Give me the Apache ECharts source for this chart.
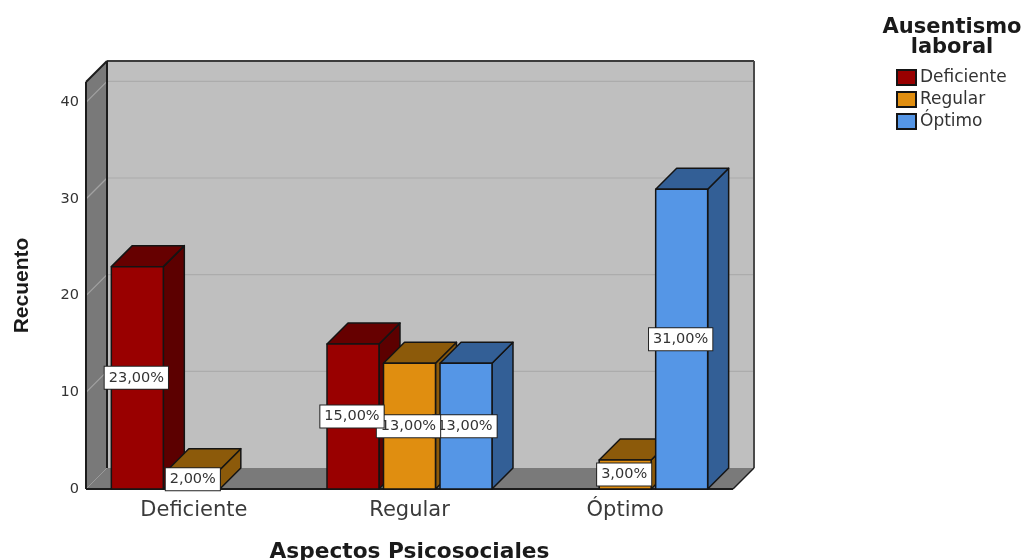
<!DOCTYPE html>
<html>
<head>
<meta charset="utf-8">
<script src="https://cdn.jsdelivr.net/npm/echarts@6/dist/echarts.min.js"></script>
<style>html,body{margin:0;padding:0;background:#fff}#chart{width:1024px;height:560px}</style>
</head>
<body>
<div id="chart"></div>
<script>
// Recuento de ausentismo laboral por nivel de aspectos psicosociales
const categories = ['Deficiente', 'Regular', 'Óptimo'];
const deficiente = [23, 15, 0];
const regular = [2, 13, 3];
const optimo = [0, 13, 31];
const yTicks = [0, 10, 20, 30, 40];
const seriesNames = ['Deficiente', 'Regular', 'Óptimo'];

const DEPTH = 21;
const palette = [
  { front: '#990000', top: '#660000', side: '#5c0000' },
  { front: '#e08e10', top: '#8c5a0a', side: '#8c5a0a' },
  { front: '#5596e6', top: '#335f96', side: '#335f96' }
];
const EDGE = '#141414';
const values = [deficiente, regular, optimo];
const FONT = '"DejaVu Sans"';

// Paredes, suelo y rejilla de la caja 3D, colocados con la escala del eje
function renderBox(params, api) {
  const c = params.coordSys;
  const l = c.x, r = c.x + c.width, t = c.y, b = c.y + c.height, d = DEPTH;
  const poly = (points, fill) => ({ type: 'polygon', shape: { points }, style: { fill, stroke: null } });
  const line = (x1, y1, x2, y2, stroke, lineWidth) => ({
    type: 'line', shape: { x1, y1, x2, y2 }, style: { stroke, lineWidth, fill: null }
  });
  const children = [
    poly([[l + d, t - d], [r + d, t - d], [r + d, b - d], [l + d, b - d]], '#bfbfbf'),
    poly([[l, t], [l + d, t - d], [l + d, b - d], [l, b]], '#797979'),
    poly([[l, b], [l + d, b - d], [r + d, b - d], [r, b]], '#7a7a7a')
  ];
  yTicks.slice(1).forEach(tick => {
    const y = api.coord([0, tick])[1];
    children.push(line(l + d, y - d, r + d, y - d, '#acacac', 1.2));
    children.push(line(l, y, l + d, y - d, '#a2a2a2', 1.2));
  });
  children.push(
    line(l + d, b - d, l, b, '#9a9a9a', 1),
    line(l + d, t - d, r + d, t - d, '#3c3c3c', 2),
    line(r + d, t - d, r + d, b - d, '#4a4a4a', 2),
    line(l + d, t - d, l + d, b - d, '#1c1c1c', 2),
    line(l, t, l, b, '#1c1c1c', 2),
    line(l, t, l + d, t - d, '#1c1c1c', 2),
    line(l, b, r, b, '#1c1c1c', 2),
    line(r, b, r + d, b - d, '#1c1c1c', 1.5)
  );
  return { type: 'group', children };
}

// Posición horizontal de la cara frontal de una barra dentro de su categoría
function frontRect(api, seriesIdx, cat, val) {
  const band = api.size([1, 0])[0];
  const pitch = band * 0.262, w = band * 0.241;
  const cx = api.coord([cat, 0])[0] + (seriesIdx - 1) * pitch;
  const y0 = api.coord([cat, 0])[1], y1 = api.coord([cat, val])[1];
  return { x: cx - w / 2, w, cx, y0, y1 };
}

function makeBarRenderer(seriesIdx) {
  return function (params, api) {
    const cat = api.value(0), val = api.value(1);
    if (!val) return null;
    const f = frontRect(api, seriesIdx, cat, val), col = palette[seriesIdx], d = DEPTH;
    const style = fill => ({ fill, stroke: EDGE, lineWidth: 1.5, lineJoin: 'round' });
    const xl = f.x, xr = f.x + f.w;
    return {
      type: 'group',
      children: [
        { type: 'polygon', shape: { points: [[xr, f.y1], [xr + d, f.y1 - d], [xr + d, f.y0 - d], [xr, f.y0]] }, style: style(col.side) },
        { type: 'polygon', shape: { points: [[xl, f.y1], [xl + d, f.y1 - d], [xr + d, f.y1 - d], [xr, f.y1]] }, style: style(col.top) },
        { type: 'rect', shape: { x: xl, y: f.y1, width: f.w, height: f.y0 - f.y1 }, style: style(col.front) }
      ]
    };
  };
}

// Etiquetas de valor; el orden de los datos decide cuál queda encima
const labelData = [];
for (let s = values.length - 1; s >= 0; s--) {
  values[s].forEach((v, cat) => { if (v) labelData.push([cat, v, s]); });
}

function renderLabel(params, api) {
  const cat = api.value(0), val = api.value(1), s = api.value(2);
  const f = frontRect(api, s, cat, val);
  return {
    type: 'text',
    x: f.cx - 1,
    y: (f.y0 + f.y1) / 2,
    style: {
      text: val + ',00%', align: 'center', verticalAlign: 'middle',
      font: '14.5px ' + FONT, fill: '#333',
      backgroundColor: '#fff', borderColor: '#222', borderWidth: 1, padding: [4, 4, 3, 4]
    }
  };
}

const barSeries = seriesNames.map((name, s) => ({
  name,
  type: 'custom',
  renderItem: makeBarRenderer(s),
  clip: false,
  z: 3,
  itemStyle: { color: palette[s].front, borderColor: EDGE, borderWidth: 1.5 },
  encode: { x: 0, y: 1 },
  data: values[s].map((v, cat) => [cat, v])
}));

const chart = echarts.init(document.getElementById('chart'), null, { renderer: 'canvas' });
chart.setOption({
  animation: false,
  backgroundColor: '#fff',
  title: {
    text: 'Ausentismo\nlaboral',
    left: 952, top: 18, padding: 0, textAlign: 'center',
    textStyle: { fontFamily: FONT, fontWeight: 'bold', fontSize: 21, lineHeight: 20, color: '#1a1a1a' }
  },
  legend: {
    data: seriesNames, orient: 'vertical', left: 896, top: 69, padding: 0,
    icon: 'rect', itemWidth: 19, itemHeight: 15, itemGap: 5, selectedMode: false,
    textStyle: { fontFamily: FONT, fontSize: 17, lineHeight: 15, color: '#333', padding: [0, 0, 0, -1] }
  },
  grid: { left: 86, top: 82, width: 647, height: 407, containLabel: false, outerBoundsMode: 'none' },
  xAxis: {
    type: 'category', data: categories, boundaryGap: true,
    axisLine: { show: false }, axisTick: { show: false }, splitLine: { show: false },
    axisLabel: { fontFamily: FONT, fontSize: 21, color: '#3a3a3a', margin: 11 },
    name: 'Aspectos Psicosociales', nameLocation: 'middle', nameGap: 52,
    nameTextStyle: { fontFamily: FONT, fontWeight: 'bold', fontSize: 21.7, color: '#1a1a1a' }
  },
  yAxis: {
    type: 'value', min: 0, max: 42.1, interval: 10,
    axisLine: { show: false }, axisTick: { show: false }, splitLine: { show: false },
    axisLabel: {
      fontFamily: FONT, fontSize: 14.5, color: '#333', margin: 7,
      customValues: yTicks
    },
    name: 'Recuento', nameLocation: 'middle', nameGap: 53, nameRotate: 90,
    nameTextStyle: { fontFamily: '"Liberation Sans"', fontWeight: 'bold', fontSize: 21, color: '#1a1a1a' }
  },
  series: [
    { type: 'custom', renderItem: renderBox, silent: true, clip: false, z: 1, encode: { x: 0, y: 1 }, data: [[0, 0]] },
    ...barSeries,
    { type: 'custom', renderItem: renderLabel, silent: true, clip: false, z: 5, encode: { x: 0, y: 1 }, data: labelData }
  ]
});
</script>
</body>
</html>
